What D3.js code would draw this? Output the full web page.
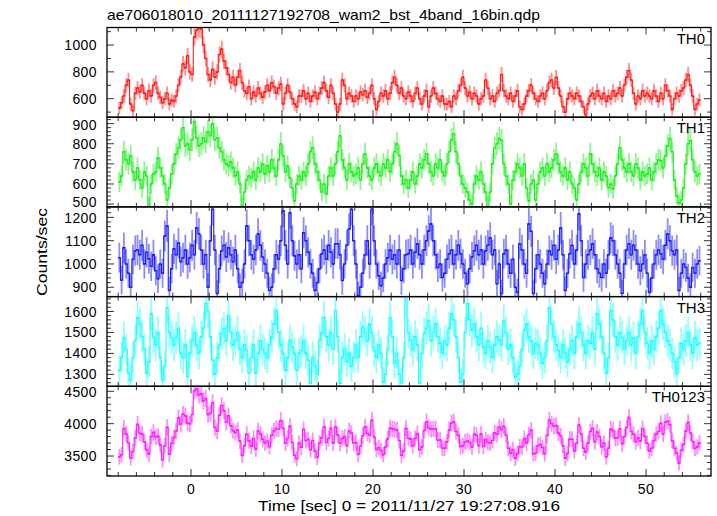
<!DOCTYPE html>
<html>
<head>
<meta charset="utf-8">
<script src="https://cdn.jsdelivr.net/npm/d3@7"></script>
<style>
  html, body { margin: 0; padding: 0; background: #fff; }
  svg { display: block; }
  text { font-family: "Liberation Sans", Arial, Helvetica, sans-serif; fill: #000; }
</style>
</head>
<body>
<svg id="chart" width="717" height="516"></svg>
<script>
// ---- data (count rates, counts/sec, 0.25 s bins starting at t = -8 s) ----
const titleText = "ae706018010_20111127192708_wam2_bst_4band_16bin.qdp";
const xLabelText = "Time [sec] 0 = 2011/11/27 19:27:08.916";
const yLabelText = "Counts/sec";
const timeStart = -8;
const binWidth = 0.25;

const th0 = [
  530,570,620,700,740,560,510,640, 680,650,700,640,600,660,620,700,
  720,640,610,570,600,640,560,590, 580,620,700,760,860,830,920,800,
  780,1060,1110,1125,1120,1000,900,780, 740,820,760,800,930,970,880,830,
  780,720,760,700,760,810,720,660, 640,690,600,650,620,680,640,610,
  650,700,660,720,690,640,680,710, 560,640,700,650,600,560,540,620,
  620,660,600,640,580,620,650,600, 640,680,720,660,610,700,640,560,
  500,560,740,700,600,640,620,580, 620,600,650,630,660,610,640,700,
  600,520,580,640,620,660,600,640, 720,760,700,640,680,620,600,650,
  620,580,640,680,600,560,620,660, 540,620,680,640,600,580,620,560,
  560,580,540,620,600,660,700,760, 680,620,650,600,640,620,560,600,
  620,740,680,600,620,580,640,660, 780,660,620,600,640,580,620,660,
  540,520,560,620,660,700,640,600, 580,620,640,600,660,720,740,680,
  760,680,620,540,500,600,640,620, 600,640,620,580,540,480,560,620,
  640,600,660,620,600,640,580,620, 600,660,620,640,680,620,700,760,
  810,740,640,560,620,600,660,620, 640,620,600,660,620,580,640,600,
  700,660,620,520,600,640,620,660, 680,740,780,700,620,520,560,590
];
const th1 = [
  610,640,760,720,700,740,660,620, 680,620,580,660,640,490,600,650,
  660,730,680,640,600,520,580,650, 700,750,780,820,880,790,800,770,
  820,910,830,790,800,830,810,860, 840,900,820,830,780,760,720,700,
  690,710,680,640,660,600,490,560, 620,640,630,660,620,680,660,700,
  650,690,660,720,680,640,720,800, 740,660,690,630,580,516,600,640,
  620,660,640,700,760,780,700,660, 620,560,600,550,640,680,640,700,
  760,840,720,680,620,700,660,640, 650,680,620,700,750,680,640,620,
  680,700,660,640,700,680,720,660, 700,760,800,740,640,600,620,580,
  620,660,600,640,700,680,720,750, 700,660,640,700,680,720,660,640,
  700,760,820,850,760,700,640,600, 580,560,520,500,600,640,620,660,
  600,560,490,560,700,780,800,826, 816,700,640,600,501,620,660,700,
  680,640,700,580,516,600,620,520, 600,660,680,640,700,660,680,720,
  750,700,660,640,680,620,660,600, 580,520,600,660,700,680,640,750,
  700,660,640,680,620,660,640,580, 600,576,640,700,781,720,680,660,
  700,660,640,700,680,620,660,640, 650,680,620,660,700,720,716,680,
  740,790,826,760,620,540,506,520, 580,700,800,816,720,660,640,651
];
const th2 = [
  1027,930,1070,1000,960,900,1020,1057, 1060,1040,1080,1000,1050,1022,990,1040,
  971,937,1000,960,1120,1164,886,980, 1065,1040,1090,1010,1027,1060,1000,1027,
  1080,1040,1155,1130,1060,1000,1040,900, 1100,1235,1060,873,980,1057,1080,1030,
  1070,1040,1010,1060,980,900,920,1000, 1164,1100,1040,1020,1060,1129,1080,1030,
  1000,960,886,900,980,1040,1020,1100, 1228,1080,1000,1220,1100,1035,1000,1040,
  980,1134,1100,1050,1000,960,886,920, 980,1044,1060,1020,1080,1050,1000,1087,
  1087,1040,929,1000,1080,1150,1235,1100, 1000,865,900,960,1040,1100,1000,1235,
  1100,1000,950,907,940,1000,1027,1060, 1020,1040,1000,1060,929,980,1040,1044,
  1060,1000,1050,1087,1040,1000,1060,1100, 1142,1172,1100,1040,985,1000,942,960,
  1020,1044,1060,1000,1040,1080,1044,1000, 960,915,980,1030,1057,1080,1040,1060,
  1000,1057,1080,1112,1040,1060,915,1000, 873,1044,1060,1000,960,1020,900,878,
  1087,1060,1000,960,1172,1140,873,980, 1040,1000,960,915,1000,1057,1040,1080,
  1020,1060,1155,1040,886,960,1044,1080, 1000,1060,1215,1100,942,1000,1040,1060,
  1087,1040,980,960,942,1000,960,1040, 1112,1100,1040,1000,960,873,1000,1060,
  1087,1040,1080,1060,1000,971,1000,1040, 960,878,940,1000,1040,1060,1044,1020,
  1080,1129,1100,1057,1040,1060,886,960, 1000,985,940,900,985,960,1000,1014
];
const th3 = [
  1320,1381,1476,1420,1305,1271,1380,1462, 1571,1540,1480,1420,1305,1360,1590,1476,
  1440,1500,1381,1271,1340,1619,1500,1476, 1440,1476,1520,1400,1380,1440,1290,1400,
  1462,1500,1440,1400,1480,1520,1638,1600, 1480,1367,1300,1380,1440,1495,1520,1460,
  1581,1500,1440,1462,1500,1420,1380,1440, 1414,1305,1380,1440,1305,1400,1460,1420,
  1400,1380,1440,1480,1540,1605,1500,1440, 1400,1319,1380,1462,1429,1400,1319,1400,
  1414,1460,1400,1367,1257,1380,1340,1300, 1462,1500,1571,1480,1440,1500,1420,1605,
  1480,1257,1381,1420,1360,1400,1340,1381, 1440,1380,1480,1524,1500,1460,1540,1500,
  1414,1380,1440,1400,1262,1300,1420,1571, 1480,1352,1400,1300,1260,1380,1667,1500,
  1462,1420,1480,1440,1257,1400,1495,1520, 1557,1460,1500,1540,1480,1448,1400,1460,
  1440,1520,1590,1560,1480,1380,1262,1300, 1500,1638,1560,1510,1540,1480,1440,1520,
  1429,1400,1460,1429,1380,1440,1480,1462, 1440,1557,1500,1420,1440,1380,1286,1300,
  1340,1420,1510,1540,1480,1460,1400,1448, 1440,1400,1352,1380,1460,1619,1540,1480,
  1440,1414,1380,1440,1400,1360,1420,1460, 1400,1480,1543,1500,1440,1400,1460,1448,
  1500,1420,1590,1540,1480,1400,1305,1380, 1605,1560,1480,1440,1500,1476,1420,1460,
  1500,1440,1476,1400,1480,1540,1605,1500, 1448,1400,1460,1420,1480,1520,1605,1540,
  1500,1460,1440,1400,1360,1305,1380,1448, 1420,1460,1500,1440,1400,1476,1440,1448
];
// TH0123 is the sum of the four bands
const th0123 = th0.map((v, i) => v + th1[i] + th2[i] + th3[i]);

const panelNames = ["TH0", "TH1", "TH2", "TH3", "TH0123"];
const panelSeries = [th0, th1, th2, th3, th0123];
const panelColors = ["#ff1a1a", "#1aee1a", "#1a1aff", "#1affff", "#ff1aff"];
const panelDomains = [[462, 1131], [486, 932], [860, 1245], [1243, 1671], [3192, 4577]];
const panelTickLabels = [
  [600, 800, 1000],
  [500, 600, 700, 800, 900],
  [900, 1000, 1100, 1200],
  [1300, 1400, 1500, 1600],
  [3500, 4000, 4500]
];
const panelMajorStep = [200, 100, 100, 100, 500];
const panelMinorStep = [100, 20, 20, 20, 100];
const xTickLabels = [0, 10, 20, 30, 40, 50];
const xMajorStep = 10, xMinorStep = 2;

// ---- layout ----
const svg = d3.select("#chart");
const plotLeft = 107, plotRight = 711, plotTop = 27.5, plotBottom = 476;
const panelH = (plotBottom - plotTop) / panelNames.length;
const x = d3.scaleLinear().domain([-9.23, 57.14]).range([plotLeft, plotRight]);

const defs = svg.append("defs");

const steps = (a, b, s) => {
  const out = [];
  const start = Math.ceil(a / s - 1e-9) * s;
  for (let v = start; v <= b + 1e-9; v += s) out.push(Math.round(v * 1000) / 1000);
  return out;
};

panelNames.forEach((name, p) => {
  const y0 = plotTop + p * panelH, y1 = y0 + panelH;
  const y = d3.scaleLinear().domain(panelDomains[p]).range([y1, y0]);
  const g = svg.append("g");
  defs.append("clipPath").attr("id", "clip" + p)
    .append("rect").attr("x", plotLeft).attr("y", y0).attr("width", plotRight - plotLeft).attr("height", panelH);

  const data = panelSeries[p].map((v, i) => ({
    t: timeStart + binWidth * (i + 0.5),
    v: v,
    e: Math.sqrt(v / binWidth)
  }));
  const col = panelColors[p];
  const dg = g.append("g").attr("clip-path", "url(#clip" + p + ")");
  // vertical error bars (pale)
  dg.selectAll("line.ev").data(data).join("line")
    .attr("x1", d => x(d.t)).attr("x2", d => x(d.t))
    .attr("y1", d => y(d.v - d.e)).attr("y2", d => y(d.v + d.e))
    .attr("stroke", col).attr("stroke-opacity", 0.5).attr("stroke-width", 1.8);
  // binned step line
  const stepLine = d3.line().x(d => x(d.t)).y(d => y(d.v)).curve(d3.curveStep);
  const ext = [{ t: data[0].t - binWidth / 2, v: data[0].v }, ...data,
               { t: data[data.length - 1].t + binWidth / 2, v: data[data.length - 1].v }];
  dg.append("path").attr("d", stepLine(ext)).attr("fill", "none")
    .attr("stroke", col).attr("stroke-width", 1.1);
  // horizontal bin bars
  dg.selectAll("line.eh").data(data).join("line")
    .attr("x1", d => x(d.t - binWidth / 2)).attr("x2", d => x(d.t + binWidth / 2))
    .attr("y1", d => y(d.v)).attr("y2", d => y(d.v))
    .attr("stroke", col).attr("stroke-width", 1.5);

  const tg = g.append("g").attr("stroke", "#333").attr("stroke-width", 1);
  const [dmin, dmax] = panelDomains[p];
  steps(dmin, dmax, panelMinorStep[p]).forEach(v => {
    const major = Math.abs(v / panelMajorStep[p] - Math.round(v / panelMajorStep[p])) < 1e-6;
    const len = major ? 7 : 4;
    const yy = y(v);
    tg.append("line").attr("x1", plotLeft).attr("x2", plotLeft + len).attr("y1", yy).attr("y2", yy);
    tg.append("line").attr("x1", plotRight).attr("x2", plotRight - len).attr("y1", yy).attr("y2", yy);
  });
  const [xmin, xmax] = x.domain();
  steps(xmin, xmax, xMinorStep).forEach(t => {
    const major = Math.abs(t / xMajorStep - Math.round(t / xMajorStep)) < 1e-6;
    const len = major ? 7 : 4;
    const xx = x(t);
    tg.append("line").attr("x1", xx).attr("x2", xx).attr("y1", y1).attr("y2", y1 - len);
    tg.append("line").attr("x1", xx).attr("x2", xx).attr("y1", y0).attr("y2", y0 + len);
  });

  g.append("rect").attr("x", plotLeft).attr("y", y0).attr("width", plotRight - plotLeft).attr("height", panelH)
    .attr("fill", "none").attr("stroke", "#000").attr("stroke-width", 1.3);

  // nudge labels sitting right at a panel edge so neighbouring labels stay apart
  const labs = panelTickLabels[p];
  g.selectAll("text.yl").data(labs).join("text")
    .attr("x", 97)
    .attr("y", d => {
      let yy = y(d);
      if (yy > y1 - 6) yy -= 2;
      if (yy < y0 + 12) yy += 1;
      return yy;
    })
    .attr("dy", "0.36em").attr("letter-spacing", 0.4)
    .attr("text-anchor", "end").attr("font-size", 14).text(d => d);

  g.append("text").attr("x", 705).attr("y", y0 + 16).attr("text-anchor", "end")
    .attr("font-size", 15).text(name);

  if (p === panelNames.length - 1) {
    g.selectAll("text.xl").data(xTickLabels).join("text")
      .attr("x", d => x(d)).attr("y", y1 + 18).attr("text-anchor", "middle")
      .attr("font-size", 14).attr("letter-spacing", 0.4).text(d => d);
  }
});

svg.append("text").attr("x", 107).attr("y", 20).attr("font-size", 15)
  .attr("textLength", 433).attr("lengthAdjust", "spacingAndGlyphs").text(titleText);
svg.append("text").attr("x", 409).attr("y", 511).attr("text-anchor", "middle").attr("font-size", 15)
  .attr("textLength", 302).attr("lengthAdjust", "spacingAndGlyphs").text(xLabelText);
svg.append("text").attr("transform", "translate(47,252) rotate(-90)").attr("text-anchor", "middle")
  .attr("font-size", 15).attr("textLength", 88).attr("lengthAdjust", "spacingAndGlyphs").text(yLabelText);
</script>
</body>
</html>
